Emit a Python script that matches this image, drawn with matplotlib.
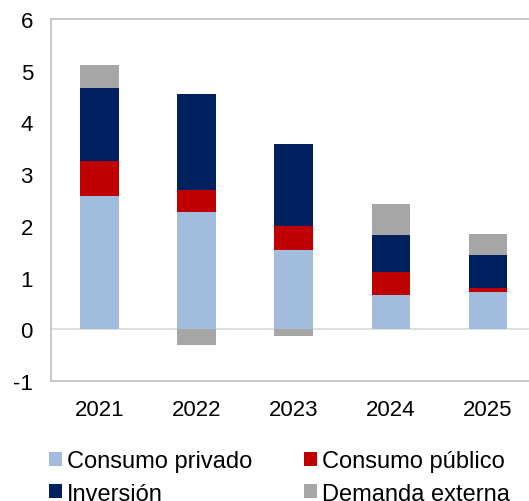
import numpy as np
import matplotlib
matplotlib.use("Agg")
import matplotlib.pyplot as plt

plt.rcParams['font.family'] = ['Liberation Sans', 'DejaVu Sans']
plt.rcParams['axes.unicode_minus'] = False

# --- DATA ---
years = ['2021', '2022', '2023', '2024', '2025']
consumo_privado = [2.58, 2.26, 1.53, 0.66, 0.72]
consumo_publico = [0.68, 0.43, 0.46, 0.44, 0.07]
inversion = [1.40, 1.86, 1.60, 0.73, 0.64]
demanda_externa = [0.46, -0.30, -0.13, 0.60, 0.41]

series = [
    ('Consumo privado', consumo_privado, '#A2BCDD'),
    ('Consumo público', consumo_publico, '#C00000'),
    ('Inversión', inversion, '#002060'),
    ('Demanda externa', demanda_externa, '#A6A6A6'),
]

fig = plt.figure(figsize=(5.29, 5.02), dpi=100)
ax = fig.add_axes([0.0964, 0.239, 0.918, 0.721])

x = np.arange(len(years))
pos_base = np.zeros(len(years))
neg_base = np.zeros(len(years))
handles = []
for label, vals, color in series:
    vals = np.array(vals)
    base = np.where(vals >= 0, pos_base, neg_base)
    h = ax.bar(x, vals, width=0.4, bottom=base, color=color, label=label, linewidth=0)
    handles.append(h)
    pos_base = pos_base + np.where(vals >= 0, vals, 0)
    neg_base = neg_base + np.where(vals < 0, vals, 0)

ax.axhline(0, color='#D9D9D9', linewidth=1.2, zorder=0)
ax.set_xlim(-0.5, 4.5)
ax.set_ylim(-1, 6)
ax.set_yticks(range(-1, 7))
ax.set_xticks(x)
ax.set_xticklabels(years)
ax.tick_params(axis='both', length=0, labelsize=16)
ax.tick_params(axis='y', pad=13)
ax.tick_params(axis='x', pad=13)
for s in ax.spines.values():
    s.set_color('#BFBFBF')
    s.set_linewidth(1.2)

# legend fills row by row in the reference
order = [0, 2, 1, 3]
fig.legend([handles[i] for i in order], [series[i][0] for i in order],
           loc='upper left', bbox_to_anchor=(0.0926, 0.1016), ncol=2,
           frameon=False, fontsize=17, handlelength=0.55, handleheight=0.55,
           handletextpad=0.2, columnspacing=2.2, labelspacing=0.45,
           borderpad=0, borderaxespad=0)

fig.savefig('out.png', dpi=100)
